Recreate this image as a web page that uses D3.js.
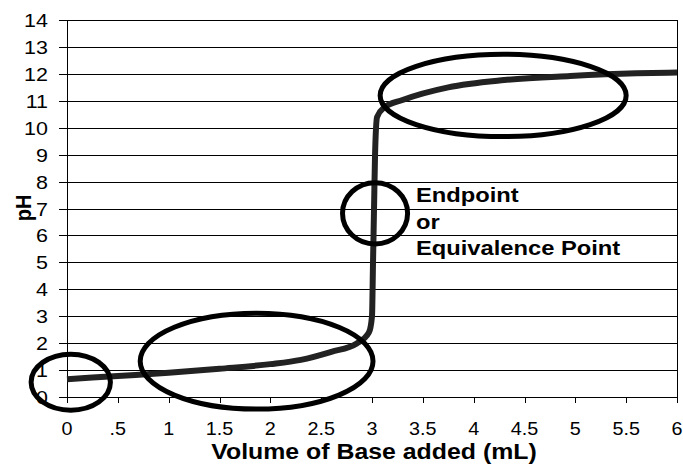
<!DOCTYPE html>
<html>
<head>
<meta charset="utf-8">
<script src="https://cdn.jsdelivr.net/npm/d3@7/dist/d3.min.js"></script>
<style>
  html, body { margin: 0; padding: 0; background: #fff; }
  svg { display: block; font-family: "Liberation Sans", Arial, sans-serif; }
</style>
</head>
<body>
<svg id="chart" width="683" height="464"></svg>
<script>
// ---- data ----
const volume = [0, 0.5, 1, 1.5, 2, 2.3, 2.6, 2.85, 2.97, 3.0, 3.01, 3.02, 3.03, 3.05, 3.12, 3.3, 3.75, 4.3, 4.95, 5.6, 6];
const pH     = [0.66, 0.78, 0.9, 1.05, 1.22, 1.38, 1.68, 1.99, 2.4, 3.0, 5, 7, 9, 10.4, 10.75, 11.03, 11.5, 11.77, 11.92, 12.02, 12.05];

const xTickValues = [0, 0.5, 1, 1.5, 2, 2.5, 3, 3.5, 4, 4.5, 5, 5.5, 6];
const xTickLabels = ["0", ".5", "1", "1.5", "2", "2.5", "3", "3.5", "4", "4.5", "5", "5.5", "6"];
const yTickValues = [0, 1, 2, 3, 4, 5, 6, 7, 8, 9, 10, 11, 12, 13, 14];
const yTickLabels = ["0", "1", "2", "3", "4", "5", "6", "7", "8", "9", "10", "11", "12", "13", "14"];

// annotation ellipses: centre (volume, pH), radii in data units
const ellipseCx = [0.037, 1.865, 3.03, 4.29];
const ellipseCy = [0.55, 1.33, 6.82, 11.2];
const ellipseRx = [0.39, 1.145, 0.32, 1.21];
const ellipseRy = [1.04, 1.78, 1.14, 1.53];

const annotationLines = ["Endpoint", "or", "Equivalence Point"];
const xTitle = "Volume of Base added (mL)";
const yTitle = "pH";

// ---- layout ----
const W = 683, H = 464;
const margin = { left: 67, right: 6, top: 20, bottom: 67 };
const SX = 1.13; // horizontal stretch of the original picture

const svg = d3.select("#chart");
const x = d3.scaleLinear().domain([0, 6]).range([margin.left, W - margin.right]);
const y = d3.scaleLinear().domain([0, 14]).range([H - margin.bottom, margin.top]);

// grid lines
svg.append("g").selectAll("line").data(yTickValues.filter(d => d > 0)).join("line")
  .attr("x1", x(0)).attr("x2", x(6))
  .attr("y1", d => Math.round(y(d)) + 0.5).attr("y2", d => Math.round(y(d)) + 0.5)
  .attr("stroke", "#000").attr("stroke-width", 1);

// right border
svg.append("line")
  .attr("x1", Math.round(x(6)) + 0.5).attr("x2", Math.round(x(6)) + 0.5)
  .attr("y1", y(14)).attr("y2", y(0))
  .attr("stroke", "#000").attr("stroke-width", 1);

// y axis
const yAxis = svg.append("g");
yAxis.append("line")
  .attr("x1", Math.round(x(0)) + 0.5).attr("x2", Math.round(x(0)) + 0.5)
  .attr("y1", y(14)).attr("y2", y(0))
  .attr("stroke", "#000");
yAxis.selectAll("line.tick").data(yTickValues).join("line").attr("class", "tick")
  .attr("x1", x(0) - 8).attr("x2", x(0))
  .attr("y1", d => Math.round(y(d)) + 0.5).attr("y2", d => Math.round(y(d)) + 0.5)
  .attr("stroke", "#000");
yAxis.selectAll("text").data(yTickValues).join("text")
  .attr("transform", d => `translate(48,${y(d) + 7}) scale(${SX},1)`)
  .attr("text-anchor", "end")
  .attr("font-size", 19)
  .attr("fill", "#000")
  .text((d, i) => yTickLabels[i]);

// x axis
const xAxis = svg.append("g");
xAxis.append("line")
  .attr("x1", x(0)).attr("x2", x(6))
  .attr("y1", Math.round(y(0)) + 0.5).attr("y2", Math.round(y(0)) + 0.5)
  .attr("stroke", "#000");
xAxis.selectAll("line.tick").data(xTickValues).join("line").attr("class", "tick")
  .attr("x1", d => Math.round(x(d)) + 0.5).attr("x2", d => Math.round(x(d)) + 0.5)
  .attr("y1", y(0)).attr("y2", y(0) + 6)
  .attr("stroke", "#000");
xAxis.selectAll("text").data(xTickValues).join("text")
  .attr("transform", d => `translate(${x(d)},435) scale(${SX},1)`)
  .attr("text-anchor", "middle")
  .attr("font-size", 17.5)
  .attr("fill", "#000")
  .text((d, i) => xTickLabels[i]);

// titles
svg.append("text")
  .attr("transform", `translate(374,459) scale(${SX},1)`)
  .attr("text-anchor", "middle")
  .attr("font-size", 22).attr("font-weight", "bold")
  .text(xTitle);
svg.append("text")
  .attr("transform", `translate(31,208) rotate(-90) scale(1,${SX})`)
  .attr("text-anchor", "middle")
  .attr("font-size", 20).attr("font-weight", "bold")
  .text(yTitle);

// titration curve
const pts = volume.map((v, i) => [v, pH[i]]);
const line = d3.line().x(d => x(d[0])).y(d => y(d[1])).curve(d3.curveMonotoneX);
svg.append("path")
  .datum(pts)
  .attr("d", line)
  .attr("fill", "none")
  .attr("stroke", "#222")
  .attr("stroke-width", 6)
  .attr("stroke-linejoin", "round");

// ellipses
svg.append("g").selectAll("ellipse").data(ellipseCx).join("ellipse")
  .attr("cx", (d, i) => x(ellipseCx[i]))
  .attr("cy", (d, i) => y(ellipseCy[i]))
  .attr("rx", (d, i) => x(ellipseRx[i]) - x(0))
  .attr("ry", (d, i) => y(0) - y(ellipseRy[i]))
  .attr("fill", "none")
  .attr("stroke", "#000")
  .attr("stroke-width", 5);

// annotation text
const annBaselines = [202, 229, 255];
svg.append("g").selectAll("text").data(annotationLines).join("text")
  .attr("transform", (d, i) => `translate(416,${annBaselines[i]}) scale(${SX},1)`)
  .attr("font-size", 21).attr("font-weight", "bold")
  .attr("fill", "#000")
  .text(d => d);
</script>
</body>
</html>
